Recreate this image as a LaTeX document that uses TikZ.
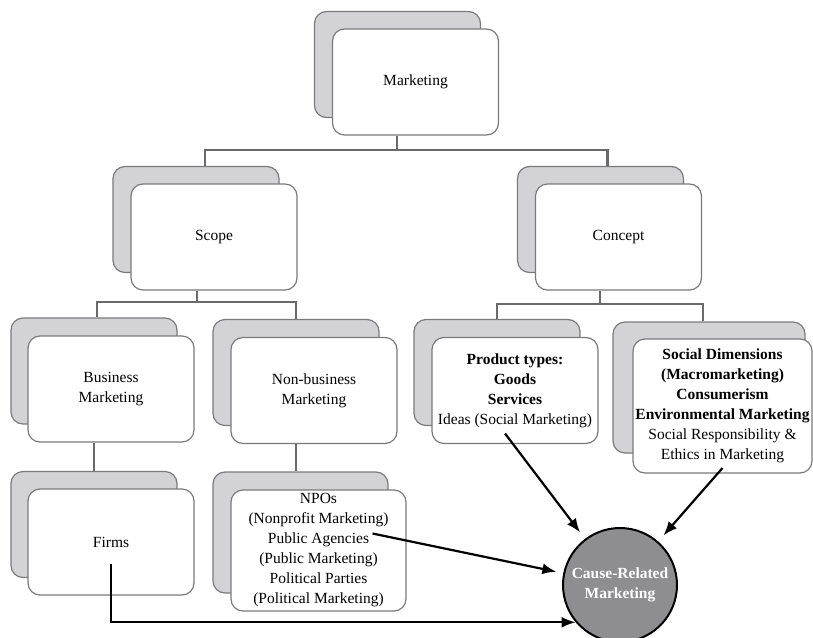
\documentclass[tikz,border=0pt]{standalone}
\usepackage{fontspec}
\setmainfont{Liberation Serif}
\usetikzlibrary{arrows.meta,positioning,calc}
\definecolor{backgray}{HTML}{D3D3D5}
\definecolor{edgegray}{HTML}{7A7A7C}
\definecolor{linkgray}{HTML}{6A6A6C}
\definecolor{crmgray}{HTML}{8E8E90}
\tikzset{
  backbox/.style={draw=edgegray, fill=backgray, rounded corners=12pt, line width=1.2pt, minimum width=166pt, minimum height=106pt, inner sep=0pt},
  frontbox/.style={draw=edgegray, fill=white, rounded corners=12pt, line width=1.2pt, minimum width=166pt, minimum height=106pt, inner sep=1pt, align=center, font=\fontsize{15.5}{20}\selectfont},
  link/.style={draw=linkgray, line width=2.6pt},
  arrow/.style={-{Latex[length=14pt,width=11pt]}, line width=2.2pt},
  crmnode/.style={circle, draw=black, fill=crmgray, line width=2pt, minimum size=114pt, inner sep=0pt, align=center, text=white, font=\bfseries\fontsize{15.5}{20}\selectfont}
}

\begin{document}
\begin{tikzpicture}[x=1pt, y=-1pt]
\useasboundingbox (0,0) rectangle (813,637);

% top level
\node[backbox] (mkt-bk) at (397.5,64.5) {};
\node[frontbox] (mkt) at (415.5,82) {Marketing};

% second level
\node[backbox] (scope-bk) at (196,219.5) {};
\node[frontbox] (scope) at (214,237) {Scope};
\node[backbox] (concept-bk) at (600.5,219.5) {};
\node[frontbox] (concept) at (618.5,237) {Concept};

% third level
\node[backbox] (bus-bk) at (94,371) {};
\node[frontbox] (bus) at (111,389) {Business\\Marketing};
\node[backbox] (nonbus-bk) at (296,372.5) {};
\node[frontbox] (nonbus) at (314,390.5) {Non-business\\Marketing};
\node[backbox] (prod-bk) at (497,372.5) {};
\node[frontbox] (prod) at (515,390.5) {\textbf{Product types:}\\\textbf{Goods}\\\textbf{Services}\\Ideas (Social Marketing)};
\node[backbox, minimum width=192pt, minimum height=131pt] (soc-bk) at (709,387.5) {};
\node[frontbox, minimum width=179pt, minimum height=134pt] (soc) at (722.5,406) {\textbf{Social Dimensions}\\\textbf{(Macromarketing)}\\\textbf{Consumerism}\\\textbf{Environmental Marketing}\\Social Responsibility \&\\Ethics in Marketing};

% fourth level
\node[backbox] (firms-bk) at (94,524.5) {};
\node[frontbox] (firms) at (111,542) {Firms};
\node[backbox, minimum width=175pt, minimum height=121pt] (npo-bk) at (300.5,532.5) {};
\node[frontbox, minimum width=175pt, minimum height=121pt] (npo) at (318.5,550.5) {NPOs\\(Nonprofit Marketing)\\Public Agencies\\(Public Marketing)\\Political Parties\\(Political Marketing)};

\node[crmnode] (crm) at (620,585) {Cause-Related\\Marketing};

% tree links
\coordinate (bar1) at (397,150);
\coordinate (bar2) at (197,302);
\coordinate (bar3) at (600,304);
\draw[link] (bar1 |- mkt.south) -- (bar1) -| ([xshift=9pt]scope-bk.north);
\draw[link] (bar1) -| ([xshift=7pt]concept-bk.north);
\draw[link] (bar2 |- scope.south) -- (bar2) -| ([xshift=3pt]bus-bk.north);
\draw[link] (bar2) -| (nonbus-bk.north);
\draw[link] (bar3 |- concept.south) -- (bar3) -| (prod-bk.north);
\draw[link] (bar3) -| ([xshift=-6pt]soc-bk.north);
\draw[link] (bus-bk.center |- bus.south) -- (firms-bk.north);
\draw[link] (nonbus-bk.center |- nonbus.south) -- (nonbus-bk.center |- npo-bk.north);

% arrows into the circle
\draw[arrow, shorten >=8pt] ([shift={(-10,43)}]prod.center) -- (crm);
\draw[arrow, shorten >=8pt] ([shift={(0,62)}]soc.center) -- (crm);
\draw[arrow, shorten >=7pt] ([shift={(54,-17)}]npo.center) -- (crm);
\draw[arrow] ([shift={(0,22)}]firms.center) |- (crm.220);
\end{tikzpicture}
\end{document}
